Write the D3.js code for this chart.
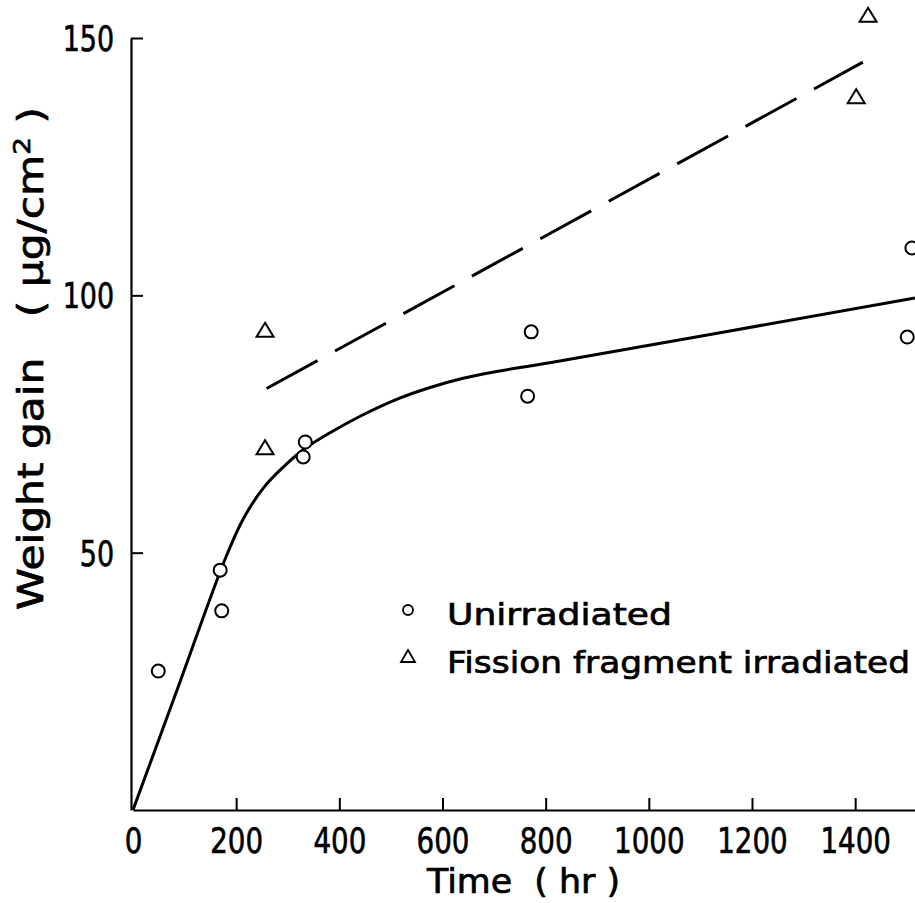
<!DOCTYPE html>
<html><head><meta charset="utf-8">
<script src="https://cdn.jsdelivr.net/npm/d3@7"></script>
<style>
body{margin:0;background:#fff}
svg{display:block}
text{font-family:"DejaVu Sans",sans-serif;fill:#000;stroke:#000;stroke-width:0.7px}
</style>
</head><body>
<svg id="c" width="915" height="903"></svg>
<script>
// ---- data ----
const unirradiatedTime = [49, 169, 172, 334, 330, 772, 765, 1510, 1501];
const unirradiatedGain = [27.0, 46.6, 38.7, 71.5, 68.6, 92.9, 80.4, 109.2, 91.9];
const irradiatedTime = [256, 256, 1425, 1402];
const irradiatedGain = [93.3, 70.5, 154.5, 138.7];
const fitUnirrTime = [0, 85, 180, 214, 253, 291, 330, 382, 446, 511, 576, 640, 705, 808, 1516];
const fitUnirrGain = [0, 23.2, 49.1, 56.6, 62.6, 66.6, 70.0, 73.3, 76.8, 79.8, 82.1, 83.9, 85.2, 86.9, 99.5];
const fitIrrTime = [259, 1415];
const fitIrrGain = [81.9, 145.3];
const xTicks = [0, 200, 400, 600, 800, 1000, 1200, 1400];
const yTicks = [50, 100, 150];
const legendLabels = ["Unirradiated", "Fission fragment irradiated"];
const xTitle = "Time\u00a0\u00a0( hr )";
const yTitleMain = "Weight gain\u00a0\u00a0\u00a0( \u03bcg/cm";
const yTitleSup = "2";
const yTitleEnd = " )";

// ---- scales ----
const x = d3.scaleLinear().domain([0, 1516]).range([133, 915]);
const y = d3.scaleLinear().domain([0, 150]).range([810, 38]);

const svg = d3.select("#c");
svg.append("rect").attr("width", 915).attr("height", 903).attr("fill", "#fff");

// ---- axes ----
const gx = svg.append("g").attr("transform", "translate(0,810)")
  .call(d3.axisBottom(x).tickValues(xTicks).tickSize(-12).tickSizeOuter(0).tickFormat(d3.format("d")));
const gy = svg.append("g").attr("transform", "translate(131,0)")
  .call(d3.axisLeft(y).tickValues(yTicks).tickSize(-12).tickSizeOuter(0).tickFormat(d3.format("d")));

[gx, gy].forEach(g => {
  g.select(".domain").attr("stroke", "#000").attr("stroke-width", 2.2);
  g.selectAll(".tick line").attr("stroke", "#000").attr("stroke-width", 2);
  g.attr("font-family", null).attr("font-size", null);
});
gx.selectAll(".tick").filter(d => d === 0).select("line").remove();
gx.selectAll(".tick text")
  .attr("font-size", 36).attr("y", 43).attr("dy", 0)
  .attr("transform", "scale(0.77,1)").style("fill", "#000");
gy.selectAll(".tick text")
  .attr("font-size", 35).attr("x", -22).attr("y", 12.5).attr("dy", 0)
  .attr("transform", "scale(0.77,1)").style("fill", "#000");

// ---- fitted curves ----
const fitU = fitUnirrTime.map((t, i) => [t, fitUnirrGain[i]]);
const fitI = fitIrrTime.map((t, i) => [t, fitIrrGain[i]]);

svg.append("path").datum(fitU)
  .attr("d", d3.line().x(d => x(d[0])).y(d => y(d[1])).curve(d3.curveCatmullRom.alpha(0.5)))
  .attr("fill", "none").attr("stroke", "#000").attr("stroke-width", 3);
svg.append("path").datum(fitI)
  .attr("d", d3.line().x(d => x(d[0])).y(d => y(d[1])))
  .attr("fill", "none").attr("stroke", "#000").attr("stroke-width", 3)
  .attr("stroke-dasharray", "58,20");

// ---- markers ----
const tri = (w, h) => `M0,${-h/2}L${w/2},${h/2}L${-w/2},${h/2}Z`;

svg.append("g").selectAll("circle")
  .data(unirradiatedTime.map((t, i) => [t, unirradiatedGain[i]]))
  .join("circle")
  .attr("cx", d => x(d[0])).attr("cy", d => y(d[1])).attr("r", 6.5)
  .attr("fill", "#fff").attr("stroke", "#000").attr("stroke-width", 2);

svg.append("g").selectAll("path")
  .data(irradiatedTime.map((t, i) => [t, irradiatedGain[i]]))
  .join("path")
  .attr("transform", d => `translate(${x(d[0])},${y(d[1])})`)
  .attr("d", tri(17, 14))
  .attr("fill", "#fff").attr("stroke", "#000").attr("stroke-width", 2);

// ---- legend ----
const leg = svg.append("g");
leg.append("circle").attr("cx", 408).attr("cy", 610).attr("r", 5)
  .attr("fill", "#fff").attr("stroke", "#000").attr("stroke-width", 1.8);
leg.append("path").attr("transform", "translate(408,656)").attr("d", tri(14, 12))
  .attr("fill", "#fff").attr("stroke", "#000").attr("stroke-width", 1.8);
leg.append("text").attr("x", 447).attr("y", 625).attr("font-size", 31)
  .attr("textLength", 225).attr("lengthAdjust", "spacingAndGlyphs").text(legendLabels[0]);
leg.append("text").attr("x", 447).attr("y", 673).attr("font-size", 31)
  .attr("textLength", 463).attr("lengthAdjust", "spacingAndGlyphs").text(legendLabels[1]);

// ---- axis titles ----
svg.append("text").attr("x", 427).attr("y", 893).attr("font-size", 33)
  .attr("textLength", 193).attr("lengthAdjust", "spacingAndGlyphs").text(xTitle);

const yt = svg.append("text").attr("transform", "translate(43,610) rotate(-90)")
  .attr("font-size", 35).attr("textLength", 503).attr("lengthAdjust", "spacingAndGlyphs");
yt.append("tspan").text(yTitleMain);
yt.append("tspan").attr("dy", -13).attr("font-size", 23).text(yTitleSup);
yt.append("tspan").attr("dy", 13).text(yTitleEnd);
</script>
</body></html>
